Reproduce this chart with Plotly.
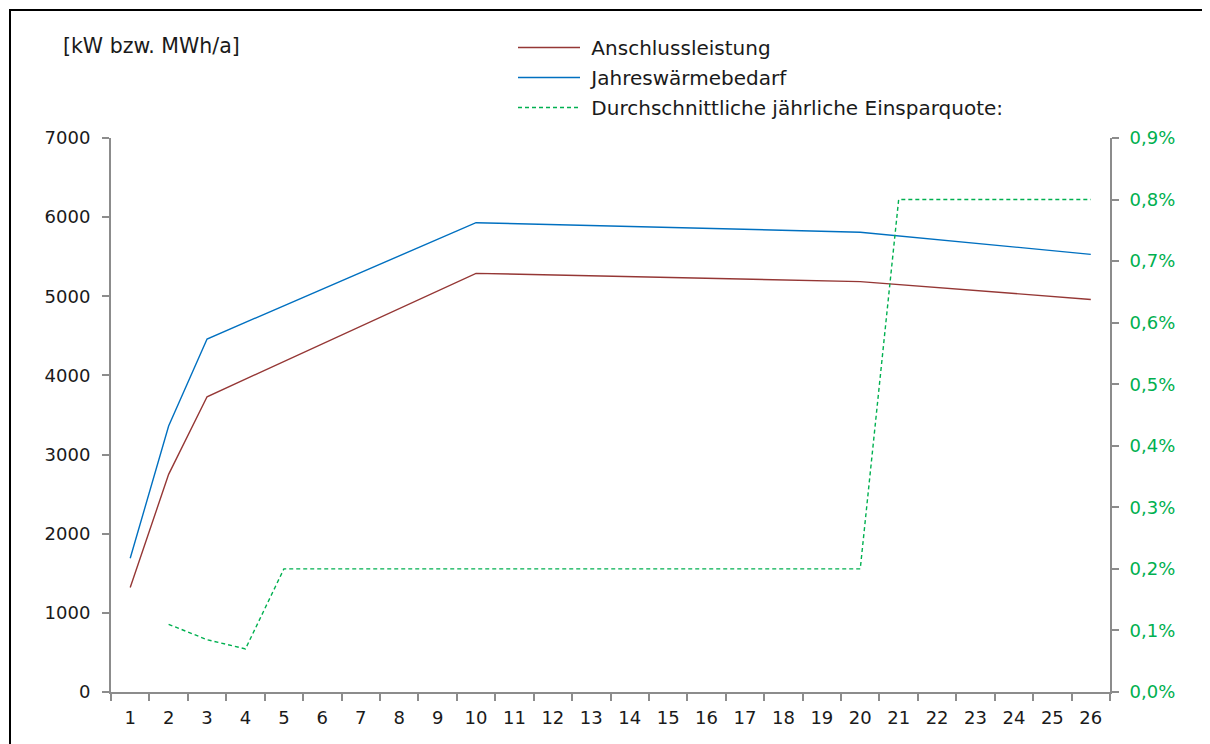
import plotly.graph_objects as go

categories = [str(i) for i in range(1, 27)]

# Anschlussleistung (kW) – values only at the given categories
anschluss = [1320, 2750, 3730, None, None, None, None, None, None, 5290,
             None, None, None, None, None, None, None, None, None, 5185,
             None, None, None, None, None, 4960]
# Jahreswärmebedarf (MWh/a)
waerme = [1690, 3360, 4460, None, None, None, None, None, None, 5930,
          None, None, None, None, None, None, None, None, None, 5810,
          None, None, None, None, None, 5530]
# Durchschnittliche jährliche Einsparquote (fraction)
einspar = [None, 0.0011, 0.00085, 0.0007, 0.002, 0.002, 0.002, 0.002, 0.002, 0.002,
           0.002, 0.002, 0.002, 0.002, 0.002, 0.002, 0.002, 0.002, 0.002, 0.002,
           0.008, 0.008, 0.008, 0.008, 0.008, 0.008]

series_names = ["Anschlussleistung", "Jahreswärmebedarf",
                "Durchschnittliche jährliche Einsparquote:"]

left_ticks = [0, 1000, 2000, 3000, 4000, 5000, 6000, 7000]
right_ticks = [0.000, 0.001, 0.002, 0.003, 0.004, 0.005, 0.006, 0.007, 0.008, 0.009]

FONT = "DejaVu Sans"
GRAY = "#8c8c8c"
GREEN = "#00B050"
OFF = 8  # page body offset
NB = "\u00a0"

fig = go.Figure()
fig.add_trace(go.Scatter(x=categories, y=anschluss, name=NB + series_names[0],
                         mode="lines", connectgaps=True, legendgroup="a",
                         line=dict(color="#953735", width=1.4)))
fig.add_trace(go.Scatter(x=categories, y=waerme, name=NB + series_names[1],
                         mode="lines", connectgaps=True, legendgroup="b",
                         line=dict(color="#0070C0", width=1.4)))
fig.add_trace(go.Scatter(x=categories, y=einspar, name=NB + series_names[2],
                         mode="lines", connectgaps=False, yaxis="y2", legendgroup="c",
                         line=dict(color=GREEN, width=1.4, dash="4px,3px")))

W, H = 1210, 744
L = 111 - OFF
T = 138 - OFF
B = H - (692 - OFF)
R = W - (1110 - OFF)
pw, ph = W - L - R, H - T - B

def px_x(x):
    return (x - OFF - L) / pw

def px_y(y):
    return (H - B - (y - OFF)) / ph

fig.update_layout(
    width=W, height=H,
    margin=dict(l=L, r=R, t=T, b=B),
    paper_bgcolor="white", plot_bgcolor="white",
    separators=",.",
    font=dict(family=FONT, size=18, color="#1a1a1a"),
    showlegend=True,
    legend=dict(x=px_x(513), y=px_y(28), xanchor="left", yanchor="top",
                font=dict(family=FONT, size=20, color="#1a1a1a"),
                bgcolor="rgba(0,0,0,0)", itemwidth=62,
                traceorder="grouped", tracegroupgap=1),
    xaxis=dict(type="category", categoryorder="array", categoryarray=categories,
               range=[-0.5, 25.5], tickson="boundaries", ticks="outside",
               ticklen=7, tickcolor=GRAY, tickwidth=2, ticklabelstandoff=8,
               showline=True, linecolor=GRAY, linewidth=2, showgrid=False,
               tickfont=dict(family=FONT, size=18, color="#1a1a1a")),
    yaxis=dict(range=[0, 7000], tickvals=left_ticks, ticks="outside", ticklen=7,
               tickcolor=GRAY, tickwidth=2, showline=True, linecolor=GRAY,
               linewidth=2, showgrid=False, zeroline=False, ticklabelstandoff=8,
               tickfont=dict(family=FONT, size=18, color="#1a1a1a")),
    yaxis2=dict(overlaying="y", side="right", range=[0, 0.009], tickvals=right_ticks,
                tickformat=".1%", ticks="outside", ticklen=7, tickcolor=GRAY,
                tickwidth=2, showline=True, linecolor=GRAY, linewidth=2,
                showgrid=False, zeroline=False, ticklabelstandoff=7,
                tickfont=dict(family=FONT, size=18, color=GREEN)),
    annotations=[dict(text="[kW bzw. MWh/a]", xref="paper", yref="paper",
                      x=px_x(61), y=px_y(46), xanchor="left", yanchor="middle",
                      showarrow=False, font=dict(family=FONT, size=20.5, color="#1a1a1a"))],
    shapes=[dict(type="rect", xref="paper", yref="paper",
                 x0=px_x(10), x1=px_x(1225), y0=px_y(760), y1=px_y(10),
                 line=dict(color="black", width=2), fillcolor="rgba(0,0,0,0)")],
)

fig.write_html("out.html")
